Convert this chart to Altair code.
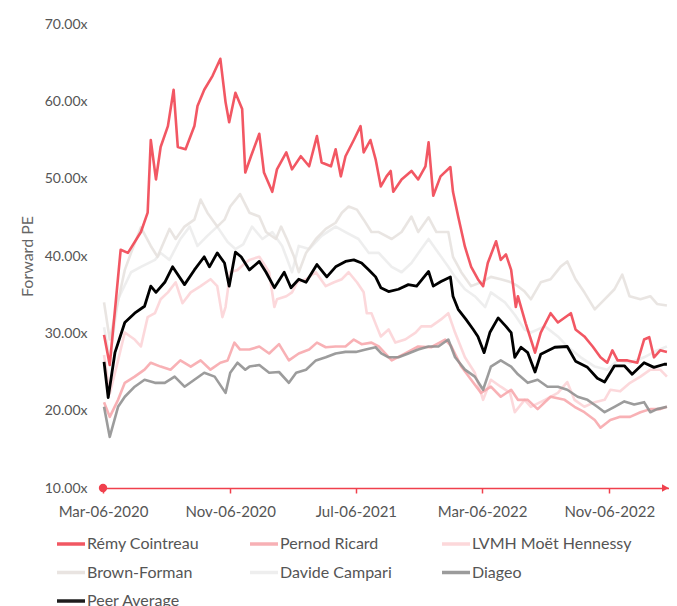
import altair as alt
import pandas as pd

START = "2020-03-06"
END_DAY = 1086          # last trading day in the data
DOMAIN_END_DAY = 1090   # axis runs a little past the data
ARROW_DAY = 1083
X_TICKS = ["2020-03-06", "2020-11-06", "2021-07-06", "2022-03-06", "2022-11-06"]
Y_TICKS = [10, 20, 30, 40, 50, 60, 70]

SERIES = ["Rémy Cointreau", "Pernod Ricard", "LVMH Moët Hennessy",
          "Brown-Forman", "Davide Campari", "Diageo", "Peer Average"]
COLORS = ["#f0404d", "#f7a6ab", "#fcd3d6", "#e6e1de", "#ececec", "#8e8e8e", "#000000"]
DRAW_ORDER = ["Davide Campari", "Brown-Forman", "LVMH Moët Hennessy", "Pernod Ricard",
              "Diageo", "Rémy Cointreau", "Peer Average"]

# (days since Mar-06-2020, forward PE)
remy = [(2,29.8),(13,25.9),(34,40.8),(48,40.4),(73,43.1),(86,45.6),(92,55.0),(102,49.9),(111,54.1),
        (125,56.8),(136,61.5),(144,54.1),(159,53.8),(176,56.8),(182,59.4),(195,61.5),(211,63.3),
        (226,65.5),(236,59.9),(243,57.3),(255,61.1),(268,59.0),(274,50.8),(285,52.9),(301,55.8),
        (310,50.8),(326,48.3),(335,51.2),(353,53.4),(364,51.2),(381,52.9),(397,51.6),(412,55.5),
        (421,52.1),(439,51.6),(448,53.8),(458,50.3),(467,52.9),(483,55.0),(496,56.8),(502,53.4),
        (515,55.0),(525,52.5),(535,49.0),(546,50.3),(554,51.0),(559,48.3),(575,49.9),(594,51.0),
        (607,49.9),(621,51.6),(627,54.7),(636,47.8),(650,50.3),(669,51.5),(674,48.3),(684,45.1),
        (697,41.2),(709,38.6),(722,37.0),(732,36.1),(741,39.1),(757,41.9),(766,39.5),(776,40.2),
        (786,38.2),(795,33.4),(799,34.8),(814,31.3),(824,29.2),(832,27.5),(843,30.1),(862,32.6),
        (876,31.4),(901,32.6),(910,30.5),(927,29.6),(943,28.3),(958,26.9),(971,26.2),(981,27.8),
        (991,26.5),(1010,26.5),(1029,26.2),(1042,29.2),(1052,29.5),(1061,26.9),(1073,27.8),(1086,27.6)]

pernod = [(2,21.1),(13,19.2),(29,21.4),(42,23.6),(61,24.4),(80,25.3),(92,26.2),(111,25.7),(130,25.3),
          (149,26.5),(169,25.7),(188,26.5),(207,25.3),(226,26.2),(240,26.5),(253,28.8),(264,27.9),
          (282,27.9),(301,28.3),(320,27.4),(339,28.6),(358,26.5),(377,27.4),(397,27.9),(412,28.8),
          (429,28.2),(448,28.3),(467,28.3),(483,29.2),(498,28.6),(517,28.8),(531,28.3),(556,26.5),
          (582,27.4),(607,28.3),(632,28.2),(659,29.2),(671,28.3),(690,25.7),(709,24.0),(728,22.3),
          (747,23.1),(766,21.8),(786,22.7),(799,21.4),(818,21.4),(837,20.2),(862,21.8),(889,21.4),
          (908,20.5),(927,19.8),(947,18.8),(958,17.8),(977,18.8),(996,19.2),(1015,19.2),(1035,19.8),
          (1054,20.2),(1073,20.2),(1086,20.5)]

lvmh = [(2,27.2),(13,22.2),(29,26.5),(42,30.1),(61,29.2),(73,28.3),(86,32.1),(100,32.6),(111,34.4),
        (125,35.3),(140,36.6),(153,33.9),(169,35.3),(188,36.1),(207,37.0),(220,36.1),(230,32.1),
        (236,33.4),(245,37.9),(259,38.2),(274,39.1),(282,39.5),(301,39.9),(320,37.9),(330,33.4),
        (335,34.4),(353,34.8),(364,35.3),(374,36.6),(391,37.0),(410,37.9),(429,36.1),(445,36.6),
        (460,37.0),(473,37.9),(489,36.6),(502,35.3),(508,32.6),(517,32.6),(527,30.9),(535,29.6),
        (550,30.5),(563,28.8),(582,29.2),(602,30.1),(613,30.9),(632,30.9),(651,31.8),(665,32.6),
        (678,30.1),(697,26.9),(716,24.9),(732,21.4),(747,24.0),(766,23.1),(784,22.3),(793,19.8),
        (812,21.4),(824,20.5),(851,21.4),(876,22.3),(894,23.7),(908,21.4),(927,20.5),(947,21.1),
        (966,21.4),(977,22.7),(996,22.5),(1015,23.6),(1035,24.4),(1054,25.3),(1073,25.3),(1086,24.4)]

brown_forman = [(2,34.0),(13,29.2),(42,38.2),(54,40.4),(73,43.7),(92,41.3),(105,39.9),(128,43.5),
                (140,42.2),(157,43.8),(176,44.7),(188,47.3),(201,45.6),(220,43.8),(234,44.7),(245,46.4),
                (264,48.0),(282,45.6),(301,45.1),(314,43.1),(333,42.2),(343,43.8),(354,42.2),(368,39.9),
                (377,37.9),(391,40.4),(410,42.2),(429,43.5),(448,44.3),(460,45.6),(473,46.4),(489,46.0),
                (502,44.7),(517,43.1),(531,43.1),(556,42.2),(575,43.1),(594,45.1),(607,43.1),(627,45.0),
                (642,43.1),(665,43.1),(674,39.9),(690,37.9),(709,36.1),(728,36.6),(747,37.3),(766,37.0),
                (786,36.6),(799,36.1),(812,35.4),(824,34.4),(843,36.6),(862,37.0),(881,38.6),(894,39.3),
                (910,37.0),(927,35.3),(947,33.1),(966,34.4),(985,35.7),(1000,37.6),(1014,34.8),(1035,34.4),
                (1054,34.8),(1067,33.8),(1086,33.6)]

campari = [(2,30.8),(13,26.7),(29,34.4),(54,37.9),(73,38.6),(100,39.5),(111,40.4),(128,39.5),(149,42.2),
           (167,43.8),(182,41.3),(201,42.6),(220,43.8),(240,41.8),(255,40.9),(270,41.5),(287,43.8),
           (307,42.2),(326,43.1),(345,41.3),(364,37.9),(377,41.3),(397,40.9),(421,42.6),(448,43.8),
           (467,43.1),(492,42.2),(512,40.4),(531,40.4),(556,38.6),(575,37.9),(594,39.1),(613,40.9),
           (627,42.2),(646,40.4),(665,38.6),(678,37.3),(697,35.7),(716,34.8),(736,33.4),(747,35.3),
           (774,34.0),(793,32.4),(812,30.5),(824,30.1),(851,30.9),(876,29.6),(894,28.3),(920,26.9),
           (947,25.7),(971,25.3),(991,26.5),(1015,26.2),(1042,26.9),(1067,27.8),(1086,28.3)]

diageo = [(2,20.5),(13,16.6),(29,20.5),(42,21.8),(61,23.1),(80,24.0),(100,23.6),(119,23.6),(138,24.4),
          (157,23.1),(176,24.0),(195,24.9),(215,24.4),(236,22.3),(245,24.9),(259,26.2),(274,25.3),
          (282,25.7),(301,25.9),(320,24.9),(339,25.0),(358,23.6),(372,24.9),(391,25.3),(410,26.5),
          (429,26.9),(448,27.4),(467,27.6),(487,27.6),(506,27.9),(525,28.2),(536,27.4),(550,26.9),
          (569,26.9),(588,27.4),(607,27.9),(627,28.3),(646,28.3),(665,29.2),(678,26.9),(697,25.3),
          (716,24.4),(732,22.7),(747,25.7),(766,26.5),(786,25.7),(799,24.7),(818,23.6),(837,24.0),
          (856,23.1),(876,23.1),(894,22.7),(914,21.8),(933,21.4),(952,20.5),(966,19.8),(985,20.5),
          (1004,21.2),(1023,20.8),(1042,21.1),(1054,19.8),(1067,20.2),(1086,20.5)]

peer_average = [(2,26.3),(10,21.7),(23,27.5),(42,31.4),(61,32.6),(80,33.5),(92,36.1),(102,35.3),(119,36.6),
                (134,38.6),(157,36.3),(176,38.2),(195,39.9),(205,38.6),(220,40.4),(234,39.1),(243,36.1),
                (255,40.5),(266,39.9),(282,38.2),(301,39.3),(314,37.9),(330,35.9),(349,37.9),(362,35.9),
                (377,37.0),(391,36.6),(412,38.9),(431,37.3),(448,38.6),(467,39.3),(483,39.5),(498,39.1),
                (512,38.2),(525,37.3),(535,35.9),(550,35.4),(569,35.7),(588,36.3),(604,36.1),(627,38.0),
                (636,36.1),(651,36.7),(669,37.3),(674,34.8),(684,33.1),(699,31.8),(713,30.5),(722,29.6),
                (734,27.5),(745,30.1),(761,32.0),(776,30.9),(786,30.1),(793,26.9),(805,28.2),(818,27.5),
                (832,25.0),(843,27.3),(870,28.2),(894,28.3),(910,26.4),(933,25.6),(952,24.2),(966,23.7),
                (985,25.8),(1004,25.8),(1019,24.7),(1042,26.2),(1061,25.6),(1081,26.0),(1086,26.0)]

DATA = {
    "Rémy Cointreau": remy,
    "Pernod Ricard": pernod,
    "LVMH Moët Hennessy": lvmh,
    "Brown-Forman": brown_forman,
    "Davide Campari": campari,
    "Diageo": diageo,
    "Peer Average": peer_average,
}

RED = "#f0404d"
FONT = "Lato"
LABEL_COLOR = "#555555"

start = pd.Timestamp(START)


def day_str(d):
    return (start + pd.Timedelta(days=d)).strftime("%Y-%m-%d")


rows = []
for name, pts in DATA.items():
    for d, v in pts:
        rows.append({"date": day_str(d), "series": name, "pe": v})
df = pd.DataFrame(rows)


def dt(s):
    t = pd.Timestamp(s)
    return alt.DateTime(year=t.year, month=t.month, date=t.day, utc=True)


x_enc = alt.X(
    "date:T",
    scale=alt.Scale(type="utc", domain=[dt(START), dt(day_str(DOMAIN_END_DAY))]),
    axis=alt.Axis(
        values=[dt(s) for s in X_TICKS],
        labelExpr="utcFormat(datum.value, '%b-%d-%Y')",
        labelFlush=False, labelOverlap=False,
        domainColor=RED, domainWidth=1.5,
        tickColor=RED, tickSize=5, tickWidth=1.5,
        labelPadding=11, labelFontSize=15, labelColor=LABEL_COLOR, labelFont=FONT,
        grid=False, title=None,
    ),
)
y_enc = alt.Y(
    "pe:Q",
    scale=alt.Scale(domain=[10, 70], nice=False, zero=False),
    axis=alt.Axis(
        values=Y_TICKS,
        labelExpr="format(datum.value, '.2f') + 'x'",
        domain=False, ticks=False, tickSize=0, grid=False,
        labelPadding=16, labelFontSize=14, labelColor=LABEL_COLOR, labelFont=FONT,
        title="Forward PE", titleFontWeight="normal", titleFontSize=16,
        titleColor="#666666", titleFont=FONT, titlePadding=9,
    ),
)
color_enc = alt.Color(
    "series:N",
    scale=alt.Scale(domain=SERIES, range=COLORS),
    legend=alt.Legend(
        title=None, orient="none", legendX=-48, legendY=504,
        direction="horizontal", columns=3,
        symbolType="stroke", symbolSize=784, symbolStrokeWidth=3.5,
        labelFontSize=16, labelColor=LABEL_COLOR, labelFont=FONT,
        labelOffset=0, columnPadding=43, rowPadding=4.5, padding=0,
    ),
)

layers = []
for name in DRAW_ORDER:
    layers.append(
        alt.Chart(df)
        .transform_filter(alt.datum.series == name)
        .mark_line(strokeWidth=2.6 if name != "Peer Average" else 2.8,
                   opacity=0.88 if name != "Peer Average" else 1.0,
                   strokeJoin="round")
        .encode(x=x_enc, y=y_enc, color=color_enc)
    )

start_dot = alt.Chart(pd.DataFrame({"date": [START], "pe": [10]})).mark_point(
    shape="circle", filled=True, color=RED, size=70, opacity=1
).encode(x=alt.X("date:T"), y=alt.Y("pe:Q"))
end_arrow = alt.Chart(pd.DataFrame({"date": [day_str(ARROW_DAY)], "pe": [10]})).mark_point(
    shape="triangle-right", filled=True, color=RED, size=60, opacity=1
).encode(x=alt.X("date:T"), y=alt.Y("pe:Q"))

chart = (
    alt.layer(*layers, start_dot, end_arrow)
    .properties(width=566, height=464,
                autosize=alt.AutoSizeParams(type="none"),
                padding={"left": 95, "top": 16, "right": 0, "bottom": 120})
    .configure(font=FONT)
    .configure_view(stroke=None)
)

chart.save("out.html", embed_options={"renderer": "svg", "actions": False})
